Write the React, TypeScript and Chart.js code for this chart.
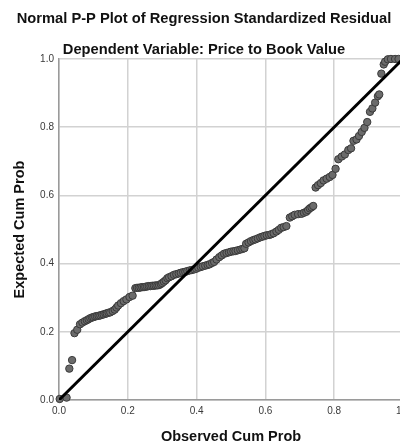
import React, { useEffect, useRef } from "react";
import { Chart, registerables } from "chart.js";

Chart.register(...registerables);

const titleText = "Normal P-P Plot of Regression Standardized Residual";
const subtitleText = "Dependent Variable: Price to Book Value";
const xAxisTitle = "Observed Cum Prob";
const yAxisTitle = "Expected Cum Prob";

const observed = [
  0.002, 0.022, 0.030, 0.038, 0.045, 0.053, 0.061, 0.068, 0.075, 0.081,
  0.086, 0.091, 0.096, 0.100, 0.105, 0.110, 0.115, 0.120, 0.125, 0.130,
  0.135, 0.139, 0.144, 0.149, 0.156, 0.162, 0.167, 0.172, 0.180, 0.188,
  0.196, 0.205, 0.214, 0.222, 0.227, 0.232, 0.237, 0.242, 0.247, 0.251,
  0.256, 0.261, 0.266, 0.271, 0.276, 0.281, 0.286, 0.291, 0.296, 0.300,
  0.305, 0.310, 0.315, 0.320, 0.327, 0.334, 0.341, 0.348, 0.354, 0.361,
  0.367, 0.373, 0.380, 0.386, 0.393, 0.399, 0.405, 0.412, 0.418, 0.425,
  0.432, 0.438, 0.445, 0.451, 0.458, 0.466, 0.473, 0.480, 0.487, 0.494,
  0.500, 0.507, 0.513, 0.520, 0.527, 0.533, 0.539, 0.544, 0.551, 0.558,
  0.565, 0.571, 0.578, 0.585, 0.591, 0.597, 0.604, 0.611, 0.617, 0.624,
  0.632, 0.639, 0.646, 0.653, 0.661, 0.671, 0.678, 0.685, 0.695, 0.705,
  0.712, 0.719, 0.724, 0.729, 0.734, 0.739, 0.746, 0.753, 0.761, 0.769,
  0.778, 0.787, 0.795, 0.804, 0.812, 0.822, 0.831, 0.841, 0.849, 0.856,
  0.865, 0.872, 0.880, 0.888, 0.896, 0.904, 0.911, 0.919, 0.927, 0.931,
  0.937, 0.944, 0.948, 0.956, 0.965, 0.977, 0.987,
];

const expected = [
  0.003, 0.007, 0.092, 0.117, 0.196, 0.206, 0.222, 0.227, 0.231, 0.234,
  0.237, 0.240, 0.242, 0.243, 0.245, 0.246, 0.247, 0.248, 0.250, 0.251,
  0.253, 0.254, 0.256, 0.257, 0.261, 0.265, 0.271, 0.277, 0.284, 0.290,
  0.295, 0.302, 0.306, 0.328, 0.329, 0.329, 0.330, 0.331, 0.331, 0.332,
  0.333, 0.334, 0.334, 0.335, 0.335, 0.336, 0.336, 0.337, 0.340, 0.343,
  0.347, 0.351, 0.357, 0.360, 0.363, 0.367, 0.369, 0.371, 0.373, 0.375,
  0.376, 0.378, 0.380, 0.381, 0.383, 0.385, 0.388, 0.390, 0.392, 0.394,
  0.396, 0.398, 0.402, 0.405, 0.412, 0.419, 0.424, 0.429, 0.431, 0.433,
  0.435, 0.436, 0.437, 0.439, 0.441, 0.443, 0.445, 0.458, 0.462, 0.466,
  0.469, 0.471, 0.474, 0.477, 0.479, 0.481, 0.483, 0.484, 0.486, 0.489,
  0.494, 0.499, 0.505, 0.507, 0.510, 0.535, 0.539, 0.543, 0.545, 0.546,
  0.549, 0.552, 0.557, 0.562, 0.565, 0.569, 0.623, 0.630, 0.636, 0.644,
  0.649, 0.654, 0.660, 0.678, 0.706, 0.714, 0.720, 0.733, 0.738, 0.760,
  0.764, 0.774, 0.786, 0.798, 0.815, 0.845, 0.855, 0.872, 0.891, 0.896,
  0.957, 0.984, 0.992, 0.999, 1.0, 1.0, 1.0,
];

const refLineX = [0, 1];
const refLineY = [0, 1];

const FONT = "'Liberation Sans', Arial, Helvetica, sans-serif";

export default function App() {
  const canvasRef = useRef<HTMLCanvasElement | null>(null);

  useEffect(() => {
    const canvas = canvasRef.current;
    if (!canvas) return;
    const points = observed.map((x, i) => ({ x, y: expected[i] }));
    const line = refLineX.map((x, i) => ({ x, y: refLineY[i] }));
    const chart = new Chart(canvas, {
      type: "scatter",
      data: {
        datasets: [
          {
            type: "line",
            data: line,
            borderColor: "#000000",
            borderWidth: 3,
            pointRadius: 0,
            fill: false,
            order: 0,
          } as any,
          {
            type: "scatter",
            data: points,
            backgroundColor: "#6b6b6b",
            borderColor: "#3a3a3a",
            borderWidth: 1,
            pointRadius: 3.7,
            clip: false,
            order: 1,
          } as any,
        ],
      },
      options: {
        animation: false,
        responsive: false,
        devicePixelRatio: 1,
        layout: { padding: { left: 5, right: 22, top: 0, bottom: 0 } },
        plugins: {
          legend: { display: false },
          tooltip: { enabled: false },
          title: {
            display: true,
            text: titleText,
            color: "#111111",
            font: { family: FONT, size: 14.7, weight: "bold" },
            padding: { top: 10.2, bottom: 6.7 },
          },
          subtitle: {
            display: true,
            text: subtitleText,
            color: "#111111",
            font: { family: FONT, size: 14.7, weight: "bold" },
            padding: { top: 6.6, bottom: 0.2 },
          },
        },
        scales: {
          x: {
            type: "linear",
            min: 0,
            max: 1,
            grid: { color: "#d2d2d2", lineWidth: 1.5, drawTicks: false },
            border: { color: "#9a9a9a", width: 1.5 },
            ticks: {
              stepSize: 0.2,
              padding: 5,
              color: "#3a3a3a",
              font: { family: FONT, size: 10 },
              maxRotation: 0,
              callback: (v: any) => Number(v).toFixed(1),
            },
            title: {
              display: true,
              text: xAxisTitle,
              color: "#111111",
              font: { family: FONT, size: 14.5, weight: "bold" },
              padding: { top: 6.6, bottom: 0 },
            },
          },
          y: {
            type: "linear",
            min: 0,
            max: 1,
            grid: { color: "#d2d2d2", lineWidth: 1.5, drawTicks: false },
            border: { color: "#9a9a9a", width: 1.5 },
            ticks: {
              stepSize: 0.2,
              padding: 5,
              color: "#3a3a3a",
              font: { family: FONT, size: 10 },
              callback: (v: any) => Number(v).toFixed(1),
            },
            title: {
              display: true,
              text: yAxisTitle,
              color: "#111111",
              font: { family: FONT, size: 14.5, weight: "bold" },
              padding: { top: 6.6, bottom: 6.1 },
            },
          },
        },
      },
    });
    return () => chart.destroy();
  }, []);

  return (
    <div
      style={{
        position: "fixed",
        left: 0,
        top: 0,
        width: 400,
        height: 443,
        overflow: "hidden",
        background: "#ffffff",
      }}
    >
      <canvas ref={canvasRef} width={425} height={446} style={{ display: "block" }} />
    </div>
  );
}
